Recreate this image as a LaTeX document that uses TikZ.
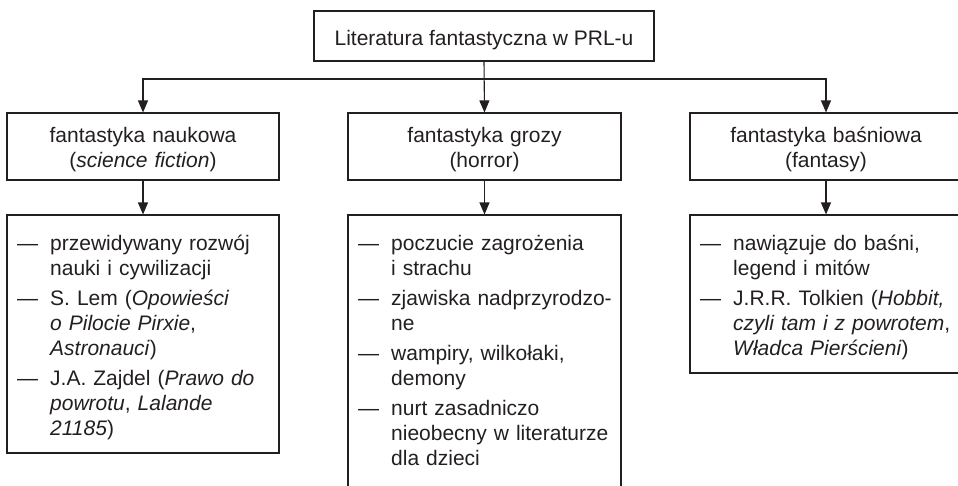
\documentclass[tikz,border=0pt]{standalone}
\usepackage{fontspec}
\setmainfont{Liberation Sans}
\usetikzlibrary{arrows.meta}
\definecolor{ink}{RGB}{35,31,32}
\newcommand{\dashitem}[1]{\hangindent=33pt\hangafter=1\noindent\makebox[33pt][l]{\rule{0pt}{18pt}—}#1\par}
\newcommand{\itemgap}{\vspace{5pt}}
\tikzset{
  box/.style={draw=ink, line width=1.1pt, inner sep=0pt, rectangle},
  txt/.style={inner sep=0pt, text=ink, font=\fontsize{21pt}{25pt}\selectfont},
  listtxt/.style={txt, anchor=north west, text width=280pt},
  headtxt/.style={txt, anchor=north, text width=260pt},
  arr/.style={draw=ink, line width=1.1pt, -{Triangle[length=12pt,width=10pt]}},
  conn/.style={draw=ink, line width=1.1pt}
}
\begin{document}
\begin{tikzpicture}[x=1pt,y=-1pt]
\useasboundingbox (0,0) rectangle (958,485);
\clip (0,0) rectangle (958,485);
% boxes
\node[box, minimum width=340pt, minimum height=50pt] (top) at (484,36) {};
\node[box, minimum width=272pt, minimum height=67pt] (h1) at (143,146.5) {};
\node[box, minimum width=273pt, minimum height=67pt] (h2) at (484.5,146.5) {};
\node[box, minimum width=272pt, minimum height=67pt] (h3) at (826,146.5) {};
\node[box, minimum width=272pt, minimum height=238pt] (l1) at (143,334) {};
\node[box, minimum width=273pt, minimum height=290pt] (l2) at (484.5,360) {};
\node[box, minimum width=272pt, minimum height=158pt] (l3) at (826,294) {};
% texts
\node[txt, anchor=base] (ttop) at (484,45) {Literatura fantastyczna w PRL-u};
\node[headtxt] (th1) at (143,124.5) {\centering\rule{0pt}{18pt}fantastyka naukowa\\(\textit{science fiction})\par};
\node[headtxt] (th2) at (484.5,124.5) {\centering\rule{0pt}{18pt}fantastyka grozy\\(horror)\par};
\node[headtxt] (th3) at (826,124.5) {\centering\rule{0pt}{18pt}fantastyka baśniowa\\(fantasy)\par};
\node[listtxt] (tl1) at (17,232) {\raggedright
\dashitem{przewidywany rozwój\newline nauki i cywilizacji}\itemgap
\dashitem{S. Lem (\textit{Opowieści\newline o Pilocie Pirxie}, \newline\textit{Astronauci})}\itemgap
\dashitem{J.A. Zajdel (\textit{Prawo do\newline powrotu}, \textit{Lalande\newline 21185})}};
\node[listtxt] (tl2) at (358,232) {\raggedright
\dashitem{poczucie zagrożenia\newline i strachu}\itemgap
\dashitem{zjawiska nadprzyrodzo-\newline ne}\itemgap
\dashitem{wampiry, wilkołaki,\newline demony}\itemgap
\dashitem{nurt zasadniczo\newline nieobecny w literaturze\newline dla dzieci}};
\node[listtxt] (tl3) at (700,232) {\raggedright
\dashitem{nawiązuje do baśni,\newline legend i mitów}\itemgap
\dashitem{J.R.R. Tolkien (\textit{Hobbit,\newline czyli tam i z powrotem}, \newline\textit{Władca Pierścieni})}};
% connectors
\coordinate (bus) at (484,79);
\draw[arr] (top.south) -- (h2.north);
\draw[arr] (bus) -| (h1.north);
\draw[arr] (bus) -| (h3.north);
\draw[arr] (h1.south) -- (l1.north);
\draw[arr] (h2.south) -- (l2.north);
\draw[arr] (h3.south) -- (l3.north);
\end{tikzpicture}
\end{document}
